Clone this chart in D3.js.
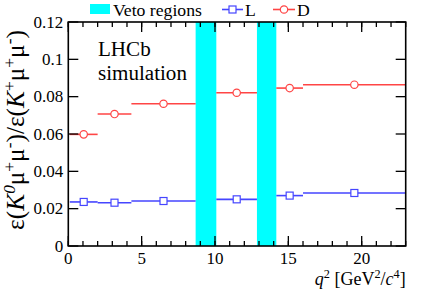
<!DOCTYPE html>
<html><head><meta charset="utf-8">
<script src="https://cdn.jsdelivr.net/npm/d3@7"></script>
<style>body{margin:0;background:#fff}svg{display:block}</style>
</head><body>
<script>
const binLo = [0.1, 2.0, 4.3, 10.09, 14.18, 16.0];
const binHi = [2.0, 4.3, 8.68, 12.86, 16.0, 23.0];
const binCenter = [1.05, 3.15, 6.49, 11.48, 15.09, 19.5];
const valuesL = [0.0236, 0.0232, 0.0241, 0.0250, 0.0270, 0.0284];
const valuesD = [0.0598, 0.0707, 0.0762, 0.0821, 0.0846, 0.0864];
const vetoLo = [8.68, 12.86];
const vetoHi = [10.09, 14.18];
const xTicks = [0, 5, 10, 15, 20];
const yTicks = [0, 0.02, 0.04, 0.06, 0.08, 0.1, 0.12];
const yTickLabels = ["0", "0.02", "0.04", "0.06", "0.08", "0.1", "0.12"];

const W = 427, H = 290;
const m = {l: 68.3, r: 427 - 405.7, t: 22, b: 290 - 246};
const svg = d3.select("body").append("svg").attr("width", W).attr("height", H);
const x = d3.scaleLinear().domain([0, 23]).range([m.l, W - m.r]);
const y = d3.scaleLinear().domain([0, 0.12]).range([H - m.b, m.t]);

function fit(sel, target) {
  const fs = parseFloat(sel.attr("font-size"));
  const w = sel.node().getBBox().width;
  if (w > 0) sel.attr("font-size", fs * target / w);
}

// veto regions
svg.selectAll("rect.veto").data(vetoLo).enter().append("rect")
  .attr("x", (d, i) => x(d)).attr("width", (d, i) => x(vetoHi[i]) - x(d))
  .attr("y", y(0.12)).attr("height", y(0) - y(0.12)).attr("fill", "#00ffff");

const colL = "#4545ff", colD = "#ff4545";
function series(vals, col, shape) {
  const g = svg.append("g");
  g.selectAll("line").data(vals).enter().append("line")
    .attr("x1", (d, i) => x(binLo[i])).attr("x2", (d, i) => x(binHi[i]))
    .attr("y1", d => y(d)).attr("y2", d => y(d))
    .attr("stroke", col).attr("stroke-width", 1.6);
  if (shape === "sq") {
    g.selectAll("rect").data(vals).enter().append("rect")
      .attr("x", (d, i) => x(binCenter[i]) - 3.5).attr("y", d => y(d) - 3.5)
      .attr("width", 7).attr("height", 7).attr("fill", "#fff")
      .attr("stroke", col).attr("stroke-width", 1.2);
  } else {
    g.selectAll("circle").data(vals).enter().append("circle")
      .attr("cx", (d, i) => x(binCenter[i])).attr("cy", d => y(d)).attr("r", 3.7)
      .attr("fill", "#fff").attr("stroke", col).attr("stroke-width", 1.2);
  }
}
series(valuesL, colL, "sq");
series(valuesD, colD, "ci");

// axes with inward ticks
const axG = svg.append("g");
const xMinor = d3.range(0, 24, 1);
function tickLines(vals, len, side) {
  vals.forEach(v => {
    if (side === "b") axG.append("line").attr("x1", x(v)).attr("x2", x(v)).attr("y1", y(0)).attr("y2", y(0) - len);
    if (side === "t") axG.append("line").attr("x1", x(v)).attr("x2", x(v)).attr("y1", y(0.12)).attr("y2", y(0.12) + len);
    if (side === "l") axG.append("line").attr("x1", x(0)).attr("x2", x(0) + len).attr("y1", y(v)).attr("y2", y(v));
    if (side === "r") axG.append("line").attr("x1", x(23)).attr("x2", x(23) - len).attr("y1", y(v)).attr("y2", y(v));
  });
}
tickLines(xMinor, 5, "b"); tickLines(xMinor, 5, "t");
tickLines(xTicks, 10, "b"); tickLines(xTicks, 10, "t");
tickLines(yTicks, 10, "l"); tickLines(yTicks, 10, "r");
axG.selectAll("line").attr("stroke", "#000").attr("stroke-width", 1.3);
axG.append("rect").attr("x", x(0)).attr("y", y(0.12)).attr("width", x(23) - x(0)).attr("height", y(0) - y(0.12))
  .attr("fill", "none").attr("stroke", "#000").attr("stroke-width", 1.6);

svg.selectAll("text.xt").data(xTicks).enter().append("text")
  .attr("x", d => x(d)).attr("y", y(0) + 17.5).attr("text-anchor", "middle")
  .attr("font-family", "serif").attr("font-size", 17).text(d => d);
svg.selectAll("text.yt").data(yTicks).enter().append("text")
  .attr("x", x(0) - 5).attr("y", d => y(d) + 5.5).attr("text-anchor", "end")
  .attr("font-family", "serif").attr("font-size", 17).text((d, i) => yTickLabels[i]);

function sup(t, txt, it) {
  const s = t.append("tspan").attr("font-size", "0.68em").attr("dy", "-0.55em").text(txt);
  if (it) s.attr("font-style", "italic");
  return s;
}
function base(t, txt, it) {
  const s = t.append("tspan").attr("dy", "0.374em").text(txt);
  if (it) s.attr("font-style", "italic");
  return s;
}

// x title
const xt = svg.append("text").attr("x", x(23)).attr("y", 285).attr("text-anchor", "end")
  .attr("font-family", "serif").attr("font-size", 18);
xt.append("tspan").attr("font-style", "italic").text("q");
sup(xt, "2");
xt.append("tspan").attr("dy", "0.374em").text(" [GeV");
sup(xt, "2");
xt.append("tspan").attr("dy", "0.374em").text("/");
xt.append("tspan").attr("font-style", "italic").text("c");
sup(xt, "4");
xt.append("tspan").attr("dy", "0.374em").text("]");
fit(xt, 91);

// y title
const yt = svg.append("text").attr("transform", "translate(24,130) rotate(-90)")
  .attr("text-anchor", "middle").attr("font-family", "serif").attr("font-size", 20);
yt.append("tspan").text("\u03B5(");
yt.append("tspan").attr("font-style", "italic").text("K");
sup(yt, "0", true);
base(yt, "\u03BC");
sup(yt, "+");
base(yt, "\u03BC");
sup(yt, "-");
base(yt, ")/\u03B5(");
yt.append("tspan").attr("font-style", "italic").text("K");
sup(yt, "+");
base(yt, "\u03BC");
sup(yt, "+");
base(yt, "\u03BC");
sup(yt, "-");
base(yt, ")");
fit(yt, 200);

// LHCb label
const t1 = svg.append("text").attr("x", 98).attr("y", 56).attr("font-family", "serif").attr("font-size", 20).text("LHCb");
const t2 = svg.append("text").attr("x", 98).attr("y", 80).attr("font-family", "serif").attr("font-size", 20).text("simulation");
fit(t2, 89);
t1.attr("font-size", t2.attr("font-size"));

// legend
const lg = svg.append("g");
lg.append("rect").attr("x", 90).attr("y", 4).attr("width", 20).attr("height", 10).attr("fill", "#00ffff");
const vt = lg.append("text").attr("x", 113).attr("y", 15.5).attr("font-family", "serif").attr("font-size", 17).text("Veto regions");
fit(vt, 89);
lg.append("line").attr("x1", 222).attr("x2", 243).attr("y1", 9.5).attr("y2", 9.5).attr("stroke", colL).attr("stroke-width", 1.6);
lg.append("rect").attr("x", 229).attr("y", 6).attr("width", 7).attr("height", 7).attr("fill", "#fff").attr("stroke", colL).attr("stroke-width", 1.2);
lg.append("text").attr("x", 245).attr("y", 15.5).attr("font-family", "serif").attr("font-size", vt.attr("font-size")).text("L");
lg.append("line").attr("x1", 273).attr("x2", 295).attr("y1", 9.5).attr("y2", 9.5).attr("stroke", colD).attr("stroke-width", 1.6);
lg.append("circle").attr("cx", 284).attr("cy", 9.5).attr("r", 3.7).attr("fill", "#fff").attr("stroke", colD).attr("stroke-width", 1.2);
lg.append("text").attr("x", 297).attr("y", 15.5).attr("font-family", "serif").attr("font-size", vt.attr("font-size")).text("D");
</script>
</body></html>
